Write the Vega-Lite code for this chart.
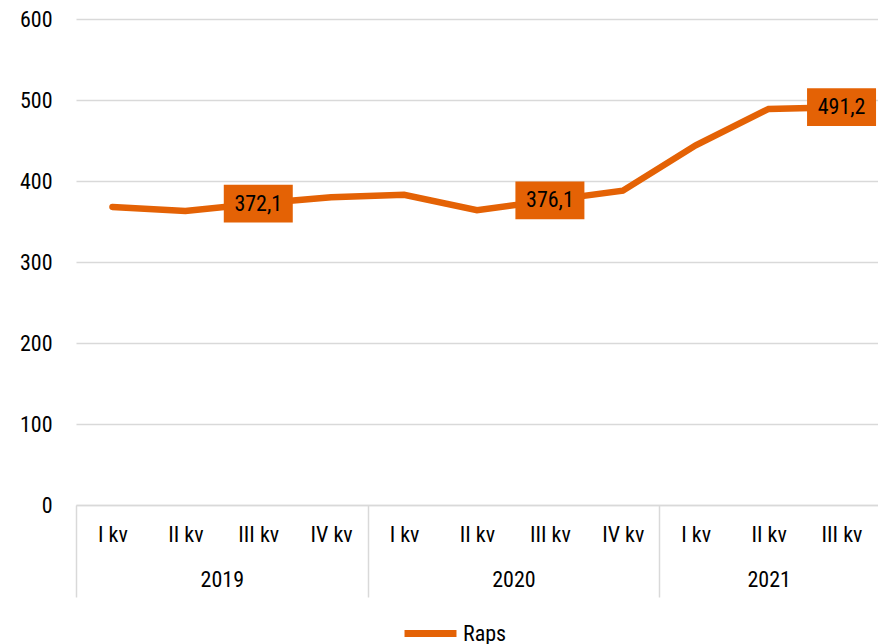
{
  "$schema": "https://vega.github.io/schema/vega-lite/v6.json",
  "width": 802,
  "height": 486,
  "autosize": "none",
  "padding": {"left": 76, "top": 19, "right": 0, "bottom": 139},
  "config": {
    "font": "Roboto Condensed, Liberation Sans Narrow, Roboto, sans-serif",
    "view": {"stroke": null}
  },
  "data": {
    "values": [
      {"i": 0, "quarter": "I kv", "year": "2019", "series": "Raps", "value": 368, "label": null},
      {"i": 1, "quarter": "II kv", "year": "2019", "series": "Raps", "value": 363, "label": null},
      {"i": 2, "quarter": "III kv", "year": "2019", "series": "Raps", "value": 372.1, "label": "372,1"},
      {"i": 3, "quarter": "IV kv", "year": "2019", "series": "Raps", "value": 380, "label": null},
      {"i": 4, "quarter": "I kv", "year": "2020", "series": "Raps", "value": 383, "label": null},
      {"i": 5, "quarter": "II kv", "year": "2020", "series": "Raps", "value": 364, "label": null},
      {"i": 6, "quarter": "III kv", "year": "2020", "series": "Raps", "value": 376.1, "label": "376,1"},
      {"i": 7, "quarter": "IV kv", "year": "2020", "series": "Raps", "value": 388, "label": null},
      {"i": 8, "quarter": "I kv", "year": "2021", "series": "Raps", "value": 444, "label": null},
      {"i": 9, "quarter": "II kv", "year": "2021", "series": "Raps", "value": 489, "label": null},
      {"i": 10, "quarter": "III kv", "year": "2021", "series": "Raps", "value": 491.2, "label": "491,2"}
    ]
  },
  "encoding": {
    "x": {
      "field": "i",
      "type": "quantitative",
      "scale": {"domain": [-0.5, 10.5], "nice": false, "zero": false},
      "axis": {
        "title": null,
        "grid": false,
        "values": [-0.5, 0, 1, 1.5, 2, 3, 3.5, 4, 5, 5.5, 6, 7, 7.5, 8, 9, 10],
        "labelExpr": "datum.value == 1.5 ? ['', '2019'] : datum.value == 5.5 ? ['', '2020'] : datum.value == 9 ? ['II kv', '2021'] : (datum.value < 0 || datum.value == 3.5 || datum.value == 7.5) ? '' : ['I kv','II kv','III kv','IV kv'][datum.value % 4]",
        "labelOverlap": false,
        "labelBound": false,
        "labelFlush": false,
        "labelFontSize": 22,
        "labelColor": "#000000",
        "labelLineHeight": 45,
        "labelPadding": -73,
        "domainColor": "#d9d9d9",
        "domainWidth": 1.5,
        "tickColor": "#d9d9d9",
        "tickWidth": 1.5,
        "tickSize": 92,
        "tickOpacity": {"condition": {"test": "datum.value == -0.5 || datum.value == 3.5 || datum.value == 7.5", "value": 1}, "value": 0}
      }
    },
    "y": {
      "field": "value",
      "type": "quantitative",
      "scale": {"domain": [0, 600], "nice": false},
      "axis": {
        "title": null,
        "values": [0, 100, 200, 300, 400, 500, 600],
        "grid": true,
        "gridColor": "#d9d9d9",
        "gridWidth": 1.5,
        "domain": false,
        "ticks": false,
        "labelPadding": 24,
        "labelFontSize": 22,
        "labelColor": "#000000"
      }
    }
  },
  "layer": [
    {
      "mark": {"type": "line", "strokeWidth": 6.5, "strokeCap": "round"},
      "encoding": {
        "color": {
          "field": "series",
          "type": "nominal",
          "scale": {"range": ["#E46205"]},
          "legend": {
            "title": null,
            "orient": "none",
            "legendX": 325,
            "legendY": 585,
            "padding": 0,
            "direction": "horizontal",
            "symbolType": "stroke",
            "symbolSize": 2700,
            "symbolStrokeWidth": 7,
            "labelFontSize": 22,
            "labelColor": "#000000",
            "labelOffset": 3
          }
        }
      }
    },
    {
      "transform": [{"filter": "datum.label != null"}],
      "mark": {"type": "point", "shape": "M-1,-0.55H1V0.55H-1Z", "filled": true, "size": 4760, "color": "#E46205", "opacity": 1, "strokeWidth": 0}
    },
    {
      "transform": [{"filter": "datum.label != null"}],
      "mark": {"type": "text", "fontSize": 22, "color": "#000000", "baseline": "middle", "align": "center"},
      "encoding": {"text": {"field": "label"}}
    }
  ]
}
